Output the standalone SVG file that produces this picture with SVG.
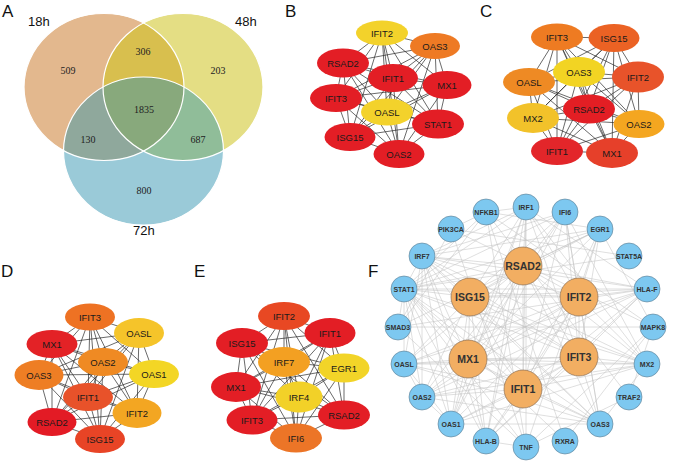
<svg xmlns="http://www.w3.org/2000/svg" width="685" height="469" viewBox="0 0 685 469">
<style>
.lbl{font-family:"Liberation Sans",Arial,sans-serif;font-size:17px;fill:#111}
.vt{font-family:"Liberation Sans",Arial,sans-serif;font-size:13px;fill:#111}
.vn{font-family:"Liberation Serif","Times New Roman",serif;font-size:10px;fill:#222;text-anchor:middle}
.vo{fill:none;stroke:#fff;stroke-width:1.2}
.e{stroke:#2a2a2a;stroke-width:0.7;fill:none}
.nt{font-family:"Liberation Sans",Arial,sans-serif;font-size:9.5px;fill:#1a1a1a;text-anchor:middle;dominant-baseline:central}
.fe{stroke:#c4c4c4;stroke-width:0.55;fill:none}
.big{fill:#F2AE62;stroke:#7a6048;stroke-width:0.6}
.sm{fill:#7DC8F0;stroke:#5b7b8f;stroke-width:0.6}
.bt{font-family:"Liberation Sans",Arial,sans-serif;font-size:10.5px;font-weight:bold;fill:#333;text-anchor:middle;dominant-baseline:central}
.st{font-family:"Liberation Sans",Arial,sans-serif;font-size:7px;font-weight:bold;fill:#333;text-anchor:middle;dominant-baseline:central}
.red{fill:#E31E25}.yel{fill:#F3D22B}.org{fill:#EE7A24}
</style>
<defs>
<clipPath id="cA"><ellipse cx="104" cy="87" rx="80" ry="73.5"/></clipPath>
<clipPath id="cB"><ellipse cx="183" cy="87" rx="80" ry="73.5"/></clipPath>
</defs>

<!-- Panel labels -->
<text class="lbl" x="2" y="17">A</text>
<text class="lbl" x="285" y="17">B</text>
<text class="lbl" x="480" y="17">C</text>
<text class="lbl" x="1" y="277">D</text>
<text class="lbl" x="194" y="277">E</text>
<text class="lbl" x="368" y="277">F</text>

<!-- Panel A: Venn -->
<g id="venn">
<ellipse cx="104" cy="87" rx="80" ry="73.5" fill="#E3B88E"/>
<ellipse cx="183" cy="87" rx="80" ry="73.5" fill="#E4DE84"/>
<ellipse cx="143.5" cy="151" rx="80" ry="74" fill="#9ACAD8"/>
<g clip-path="url(#cA)">
<ellipse cx="183" cy="87" rx="80" ry="73.5" fill="#D8BF4E"/>
<ellipse cx="143.5" cy="151" rx="80" ry="74" fill="#8FA89C"/>
</g>
<g clip-path="url(#cB)">
<ellipse cx="143.5" cy="151" rx="80" ry="74" fill="#90BD99"/>
<g clip-path="url(#cA)"><ellipse cx="143.5" cy="151" rx="80" ry="74" fill="#88A97C"/></g>
</g>
<ellipse class="vo" cx="104" cy="87" rx="80" ry="73.5"/>
<ellipse class="vo" cx="183" cy="87" rx="80" ry="73.5"/>
<ellipse class="vo" cx="143.5" cy="151" rx="80" ry="74"/>
<text class="vt" x="28" y="26">18h</text>
<text class="vt" x="235" y="26">48h</text>
<text class="vt" x="133" y="235">72h</text>
<text class="vn" x="68" y="73.5">509</text>
<text class="vn" x="143" y="54.5">306</text>
<text class="vn" x="218" y="73.5">203</text>
<text class="vn" x="144" y="112.5">1835</text>
<text class="vn" x="88" y="142.5">130</text>
<text class="vn" x="198" y="142.5">687</text>
<text class="vn" x="144" y="193.5">800</text>
</g>

<!-- Connectors -->
<g id="connectors">
<path id="edges-B" class="e" d="M382 33L435 46M382 33L343 63M382 33L393 78M382 33L447 85M382 33L336 98M382 33L387 112M382 33L438 124M382 33L350 137M382 33L399 154M435 46L343 63M435 46L393 78M435 46L447 85M435 46L336 98M435 46L387 112M435 46L438 124M435 46L350 137M435 46L399 154M343 63L393 78M343 63L447 85M343 63L336 98M343 63L387 112M343 63L438 124M343 63L350 137M343 63L399 154M393 78L447 85M393 78L336 98M393 78L387 112M393 78L438 124M393 78L350 137M393 78L399 154M447 85L336 98M447 85L387 112M447 85L438 124M447 85L350 137M447 85L399 154M336 98L387 112M336 98L438 124M336 98L350 137M336 98L399 154M387 112L438 124M387 112L350 137M387 112L399 154M438 124L350 137M438 124L399 154M350 137L399 154"/>
<path id="edges-C" class="e" d="M557 37L614 38M557 37L579 72M557 37L529 82M557 37L638 77M557 37L589 109M557 37L533 118M557 37L639 124M557 37L557 151M557 37L612 153M614 38L579 72M614 38L529 82M614 38L638 77M614 38L589 109M614 38L533 118M614 38L639 124M614 38L557 151M614 38L612 153M579 72L529 82M579 72L638 77M579 72L589 109M579 72L533 118M579 72L639 124M579 72L557 151M579 72L612 153M529 82L638 77M529 82L589 109M529 82L533 118M529 82L639 124M529 82L557 151M529 82L612 153M638 77L589 109M638 77L533 118M638 77L639 124M638 77L557 151M638 77L612 153M589 109L533 118M589 109L639 124M589 109L557 151M589 109L612 153M533 118L639 124M533 118L557 151M533 118L612 153M639 124L557 151M639 124L612 153M557 151L612 153"/>
<path id="edges-D" class="e" d="M90 317L139 333M90 317L52 344M90 317L103 362M90 317L39 375M90 317L154 374M90 317L88 397M90 317L137 413M90 317L52 422M90 317L100 439M139 333L52 344M139 333L103 362M139 333L39 375M139 333L154 374M139 333L88 397M139 333L137 413M139 333L52 422M139 333L100 439M52 344L103 362M52 344L39 375M52 344L154 374M52 344L88 397M52 344L137 413M52 344L52 422M52 344L100 439M103 362L39 375M103 362L154 374M103 362L88 397M103 362L137 413M103 362L52 422M103 362L100 439M39 375L154 374M39 375L88 397M39 375L137 413M39 375L52 422M39 375L100 439M154 374L88 397M154 374L137 413M154 374L52 422M154 374L100 439M88 397L137 413M88 397L52 422M88 397L100 439M137 413L52 422M137 413L100 439M52 422L100 439"/>
<path id="edges-E" class="e" d="M284 316L330 333M284 316L242 343M284 316L284 362M284 316L344 368M284 316L236 387M284 316L299 397M284 316L252 420M284 316L344 415M284 316L296 438M330 333L242 343M330 333L284 362M330 333L344 368M330 333L236 387M330 333L299 397M330 333L252 420M330 333L344 415M330 333L296 438M242 343L284 362M242 343L344 368M242 343L236 387M242 343L299 397M242 343L252 420M242 343L344 415M242 343L296 438M284 362L344 368M284 362L236 387M284 362L299 397M284 362L252 420M284 362L344 415M284 362L296 438M344 368L236 387M344 368L299 397M344 368L252 420M344 368L344 415M344 368L296 438M236 387L299 397M236 387L252 420M236 387L344 415M236 387L296 438M299 397L252 420M299 397L344 415M299 397L296 438M252 420L344 415M252 420L296 438M344 415L296 438"/>
<path id="edges-F" class="fe" d="M523 266L470 297M523 266L579 297M523 266L468 359M523 266L579 357M523 266L523 389M470 297L579 297M470 297L468 359M470 297L579 357M470 297L523 389M579 297L468 359M579 297L579 357M579 297L523 389M468 359L579 357M468 359L523 389M579 357L523 389
M523 266L422 256M523 266L404 289M523 266L404 364M523 266L451 424M523 266L422 397M523 266L600 424M523 266L647 364M523 266L565 212M523 266L526 207M523 266L600 229M523 266L647 289M523 266L486 441
M470 297L422 256M470 297L404 289M470 297L404 364M470 297L451 424M470 297L422 397M470 297L600 424M470 297L647 364M470 297L565 212M470 297L526 207M470 297L600 229M470 297L647 289M470 297L486 441
M579 297L422 256M579 297L404 289M579 297L404 364M579 297L451 424M579 297L422 397M579 297L600 424M579 297L647 364M579 297L565 212M579 297L526 207M579 297L600 229M579 297L647 289M579 297L486 441
M468 359L422 256M468 359L404 289M468 359L404 364M468 359L451 424M468 359L422 397M468 359L600 424M468 359L647 364M468 359L565 212M468 359L526 207M468 359L600 229M468 359L647 289M468 359L486 441
M579 357L422 256M579 357L404 289M579 357L404 364M579 357L451 424M579 357L422 397M579 357L600 424M579 357L647 364M579 357L565 212M579 357L526 207M579 357L600 229M579 357L647 289M579 357L486 441
M523 389L422 256M523 389L404 289M523 389L404 364M523 389L451 424M523 389L422 397M523 389L600 424M523 389L647 364M523 389L565 212M523 389L526 207M523 389L600 229M523 389L647 289M523 389L486 441
M422 256L404 289M422 256L526 207M422 256L451 424M422 256L422 397M422 256L404 364M422 256L647 364M422 256L600 424M422 256L565 212M422 256L647 289M422 256L486 441M422 256L600 229
M404 289L526 207M404 289L404 364M404 289L451 424M404 289L422 397M404 289L600 424M404 289L647 364M404 289L565 212M404 289L486 441M404 289L647 289M404 289L398 327M404 289L629 256M404 289L600 229M404 289L526 447M404 289L486 212
M526 447L486 212M526 447L526 207M526 447L600 229M526 447L653 327M526 447L629 397M526 447L451 229M526 447L486 441M526 447L398 327
M486 212L629 397M486 212L451 229M486 212L526 207M486 212L600 229M486 212L653 327M486 212L398 327M486 212L565 441
M451 229L653 327M451 229L629 256M451 229L398 327M600 229L398 327M600 229L653 327M653 327L629 397M653 327L398 327M653 327L565 441
M404 364L451 424M404 364L422 397M404 364L600 424M404 364L647 364M451 424L422 397M451 424L600 424M451 424L647 364M422 397L600 424M422 397L647 364M600 424L647 364
M565 212L647 364M565 212L451 424M565 212L600 424M486 441L647 289M526 207L647 289M526 207L486 441M526 207L451 424M526 207L647 364
M647 289L422 397M647 289L404 364M647 289L398 327M565 441L404 289"/>
</g>

<!-- Panel B nodes -->
<g id="B-IFIT2"><ellipse class="yel" cx="382" cy="33" rx="26" ry="12.5"/><text class="nt" x="382" y="33">IFIT2</text></g>
<g id="B-OAS3"><ellipse class="org" cx="435" cy="46" rx="25" ry="13"/><text class="nt" x="435" y="46">OAS3</text></g>
<g id="B-RSAD2"><ellipse class="red" cx="343" cy="63" rx="26" ry="14.5"/><text class="nt" x="343" y="63">RSAD2</text></g>
<g id="B-IFIT1"><ellipse class="red" cx="393" cy="78" rx="25" ry="14"/><text class="nt" x="393" y="78">IFIT1</text></g>
<g id="B-MX1"><ellipse class="red" cx="447" cy="85" rx="24.5" ry="14"/><text class="nt" x="447" y="85">MX1</text></g>
<g id="B-IFIT3"><ellipse class="red" cx="336" cy="98" rx="26" ry="14"/><text class="nt" x="336" y="98">IFIT3</text></g>
<g id="B-OASL"><ellipse class="yel" cx="387" cy="112" rx="26" ry="13.5"/><text class="nt" x="387" y="112">OASL</text></g>
<g id="B-STAT1"><ellipse class="red" cx="438" cy="124" rx="26" ry="14.5"/><text class="nt" x="438" y="124">STAT1</text></g>
<g id="B-ISG15"><ellipse class="red" cx="350" cy="137" rx="25.5" ry="14"/><text class="nt" x="350" y="137">ISG15</text></g>
<g id="B-OAS2"><ellipse class="red" cx="399" cy="154" rx="25.5" ry="14"/><text class="nt" x="399" y="154">OAS2</text></g>

<!-- Panel C nodes -->
<g id="C-IFIT3"><ellipse fill="#EE7B22" cx="557" cy="37" rx="26" ry="13.5"/><text class="nt" x="557" y="37">IFIT3</text></g>
<g id="C-ISG15"><ellipse fill="#EB6224" cx="614" cy="38" rx="25.5" ry="14"/><text class="nt" x="614" y="38">ISG15</text></g>
<g id="C-OASL"><ellipse fill="#EE8A24" cx="529" cy="82" rx="26" ry="14"/><text class="nt" x="529" y="82">OASL</text></g>
<g id="C-OAS3"><ellipse fill="#F2D423" cx="579" cy="72" rx="26" ry="15"/><text class="nt" x="579" y="72">OAS3</text></g>
<g id="C-IFIT2"><ellipse fill="#E8532A" cx="638" cy="77" rx="26" ry="15.5"/><text class="nt" x="638" y="77">IFIT2</text></g>
<g id="C-MX2"><ellipse fill="#F2C22A" cx="533" cy="118" rx="26" ry="15"/><text class="nt" x="533" y="118">MX2</text></g>
<g id="C-RSAD2"><ellipse fill="#E31E24" cx="589" cy="109" rx="26" ry="14.5"/><text class="nt" x="589" y="109">RSAD2</text></g>
<g id="C-OAS2"><ellipse fill="#F4A620" cx="639" cy="124" rx="25.5" ry="14"/><text class="nt" x="639" y="124">OAS2</text></g>
<g id="C-IFIT1"><ellipse fill="#E3262A" cx="557" cy="151" rx="26" ry="14"/><text class="nt" x="557" y="151">IFIT1</text></g>
<g id="C-MX1"><ellipse fill="#E6402A" cx="612" cy="153" rx="26" ry="15"/><text class="nt" x="612" y="153">MX1</text></g>

<!-- Panel D nodes -->
<g id="D-IFIT3"><ellipse fill="#EE7223" cx="90" cy="317" rx="25" ry="13.5"/><text class="nt" x="90" y="317">IFIT3</text></g>
<g id="D-OASL"><ellipse fill="#F5C42A" cx="139" cy="333" rx="25" ry="15"/><text class="nt" x="139" y="333">OASL</text></g>
<g id="D-MX1"><ellipse fill="#E32226" cx="52" cy="344" rx="25.5" ry="14"/><text class="nt" x="52" y="344">MX1</text></g>
<g id="D-OAS2"><ellipse fill="#EF8A23" cx="103" cy="362" rx="25" ry="14"/><text class="nt" x="103" y="362">OAS2</text></g>
<g id="D-OAS3"><ellipse fill="#EE7E24" cx="39" cy="375" rx="24.5" ry="15"/><text class="nt" x="39" y="375">OAS3</text></g>
<g id="D-OAS1"><ellipse fill="#F3D625" cx="154" cy="374" rx="25" ry="14"/><text class="nt" x="154" y="374">OAS1</text></g>
<g id="D-IFIT1"><ellipse fill="#E8522A" cx="88" cy="397" rx="25" ry="14"/><text class="nt" x="88" y="397">IFIT1</text></g>
<g id="D-IFIT2"><ellipse fill="#F3A622" cx="137" cy="413" rx="24.5" ry="15"/><text class="nt" x="137" y="413">IFIT2</text></g>
<g id="D-RSAD2"><ellipse fill="#E31B25" cx="52" cy="422" rx="24.5" ry="14"/><text class="nt" x="52" y="422">RSAD2</text></g>
<g id="D-ISG15"><ellipse fill="#E84426" cx="100" cy="439" rx="25" ry="14"/><text class="nt" x="100" y="439">ISG15</text></g>

<!-- Panel E nodes -->
<g id="E-IFIT2"><ellipse fill="#E84823" cx="284" cy="316" rx="26" ry="14"/><text class="nt" x="284" y="316">IFIT2</text></g>
<g id="E-IFIT1"><ellipse class="red" cx="330" cy="333" rx="25.5" ry="15"/><text class="nt" x="330" y="333">IFIT1</text></g>
<g id="E-ISG15"><ellipse class="red" cx="242" cy="343" rx="26" ry="15"/><text class="nt" x="242" y="343">ISG15</text></g>
<g id="E-IRF7"><ellipse fill="#F3A022" cx="284" cy="362" rx="26" ry="15"/><text class="nt" x="284" y="362">IRF7</text></g>
<g id="E-EGR1"><ellipse fill="#F2D428" cx="344" cy="368" rx="25.5" ry="14.5"/><text class="nt" x="344" y="368">EGR1</text></g>
<g id="E-MX1"><ellipse class="red" cx="236" cy="387" rx="25" ry="15"/><text class="nt" x="236" y="387">MX1</text></g>
<g id="E-IRF4"><ellipse fill="#F2D128" cx="299" cy="397" rx="23.5" ry="15.5"/><text class="nt" x="299" y="397">IRF4</text></g>
<g id="E-IFIT3"><ellipse class="red" cx="252" cy="420" rx="25.5" ry="14.5"/><text class="nt" x="252" y="420">IFIT3</text></g>
<g id="E-RSAD2"><ellipse class="red" cx="344" cy="415" rx="26" ry="14.5"/><text class="nt" x="344" y="415">RSAD2</text></g>
<g id="E-IFI6"><ellipse fill="#EC7527" cx="296" cy="438" rx="26" ry="14.5"/><text class="nt" x="296" y="438">IFI6</text></g>

<!-- Panel F nodes: hubs -->
<g id="F-RSAD2"><circle class="big" cx="523" cy="266" r="19"/><text class="bt" x="523" y="266">RSAD2</text></g>
<g id="F-ISG15"><circle class="big" cx="470" cy="297" r="19"/><text class="bt" x="470" y="297">ISG15</text></g>
<g id="F-IFIT2"><circle class="big" cx="579" cy="297" r="19"/><text class="bt" x="579" y="297">IFIT2</text></g>
<g id="F-MX1"><circle class="big" cx="468" cy="359" r="19"/><text class="bt" x="468" y="359">MX1</text></g>
<g id="F-IFIT3"><circle class="big" cx="579" cy="357" r="19"/><text class="bt" x="579" y="357">IFIT3</text></g>
<g id="F-IFIT1"><circle class="big" cx="523" cy="389" r="19"/><text class="bt" x="523" y="389">IFIT1</text></g>

<!-- Panel F nodes: ring -->
<g id="F-IRF1"><circle class="sm" cx="526" cy="207" r="13"/><text class="st" x="526" y="207">IRF1</text></g>
<g id="F-IFI6"><circle class="sm" cx="565" cy="212" r="13"/><text class="st" x="565" y="212">IFI6</text></g>
<g id="F-EGR1"><circle class="sm" cx="600" cy="229" r="13"/><text class="st" x="600" y="229">EGR1</text></g>
<g id="F-STAT5A"><circle class="sm" cx="629" cy="256" r="13"/><text class="st" x="629" y="256">STAT5A</text></g>
<g id="F-HLA-F"><circle class="sm" cx="647" cy="289" r="13"/><text class="st" x="647" y="289">HLA-F</text></g>
<g id="F-MAPK8"><circle class="sm" cx="653" cy="327" r="13"/><text class="st" x="653" y="327">MAPK8</text></g>
<g id="F-MX2"><circle class="sm" cx="647" cy="364" r="13"/><text class="st" x="647" y="364">MX2</text></g>
<g id="F-TRAF2"><circle class="sm" cx="629" cy="397" r="13"/><text class="st" x="629" y="397">TRAF2</text></g>
<g id="F-OAS3"><circle class="sm" cx="600" cy="424" r="13"/><text class="st" x="600" y="424">OAS3</text></g>
<g id="F-RXRA"><circle class="sm" cx="565" cy="441" r="13"/><text class="st" x="565" y="441">RXRA</text></g>
<g id="F-TNF"><circle class="sm" cx="526" cy="447" r="13"/><text class="st" x="526" y="447">TNF</text></g>
<g id="F-HLA-B"><circle class="sm" cx="486" cy="441" r="13"/><text class="st" x="486" y="441">HLA-B</text></g>
<g id="F-OAS1"><circle class="sm" cx="451" cy="424" r="13"/><text class="st" x="451" y="424">OAS1</text></g>
<g id="F-OAS2"><circle class="sm" cx="422" cy="397" r="13"/><text class="st" x="422" y="397">OAS2</text></g>
<g id="F-OASL"><circle class="sm" cx="404" cy="364" r="13"/><text class="st" x="404" y="364">OASL</text></g>
<g id="F-SMAD3"><circle class="sm" cx="398" cy="327" r="13"/><text class="st" x="398" y="327">SMAD3</text></g>
<g id="F-STAT1"><circle class="sm" cx="404" cy="289" r="13"/><text class="st" x="404" y="289">STAT1</text></g>
<g id="F-IRF7"><circle class="sm" cx="422" cy="256" r="13"/><text class="st" x="422" y="256">IRF7</text></g>
<g id="F-PIK3CA"><circle class="sm" cx="451" cy="229" r="13"/><text class="st" x="451" y="229">PIK3CA</text></g>
<g id="F-NFKB1"><circle class="sm" cx="486" cy="212" r="13"/><text class="st" x="486" y="212">NFKB1</text></g>
</svg>
